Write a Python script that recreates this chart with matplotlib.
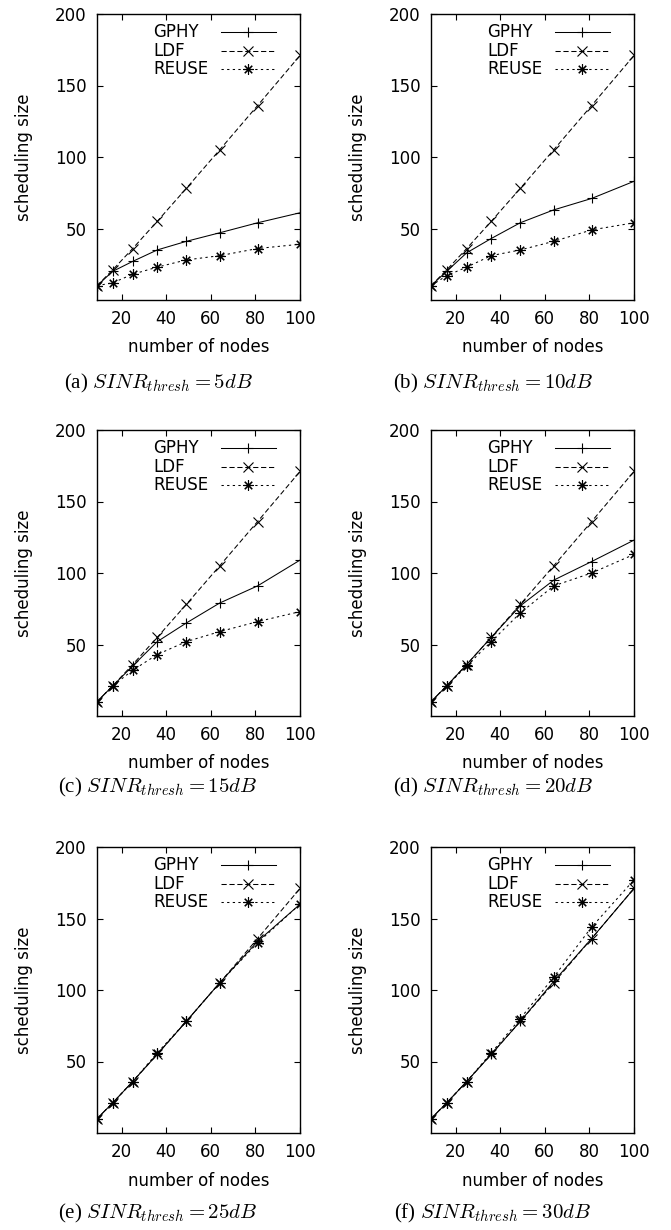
"""
Tamaño de la planificación frente al número de nodos para seis umbrales de SINR.
"""

import matplotlib
matplotlib.use("Agg")
import matplotlib.pyplot as plt
from matplotlib.lines import Line2D

# Datos
nodes = [9, 16, 25, 36, 49, 64, 81, 100]
ldf = [10, 21, 36, 55, 78, 105, 136, 171]

gphy_5 = [10, 20, 27, 35, 41, 47, 54, 61]
reuse_5 = [10, 12, 18, 23, 28, 31, 36, 39]
gphy_10 = [10, 20, 33, 43, 54, 63, 71, 83]
reuse_10 = [10, 17, 23, 31, 35, 41, 49, 54]
gphy_15 = [10, 21, 35, 52, 65, 79, 91, 109]
reuse_15 = [10, 21, 32, 43, 52, 59, 66, 73]
gphy_20 = [10, 21, 36, 55, 77, 95, 108, 123]
reuse_20 = [10, 21, 35, 52, 72, 91, 100, 113]
gphy_25 = [10, 21, 36, 55, 78, 105, 134, 160]
reuse_25 = [10, 21, 36, 56, 78, 105, 133, 160]
gphy_30 = [10, 21, 36, 55, 78, 106, 136, 171]
reuse_30 = [10, 21, 36, 56, 80, 109, 144, 177]

tags = ["(a)", "(b)", "(c)", "(d)", "(e)", "(f)"]
thresholds = ["5", "10", "15", "20", "25", "30"]
gphy_all = [gphy_5, gphy_10, gphy_15, gphy_20, gphy_25, gphy_30]
reuse_all = [reuse_5, reuse_10, reuse_15, reuse_20, reuse_25, reuse_30]
series_names = ["GPHY", "LDF", "REUSE"]

W, H = 671, 1230
AX_W, AX_H = 203, 286
FS = 12
plt.rcParams["font.family"] = ["DejaVu Sans"]
plt.rcParams["mathtext.fontset"] = "cm"

# estilos estilo gnuplot: continua, rayada y punteada
STYLES = [
    dict(color="black", lw=0.75, marker="+", ms=7.5, mew=0.8, linestyle="-"),
    dict(color="black", lw=0.75, marker="x", ms=7, mew=0.8, dashes=(5, 2.6)),
    dict(color="black", lw=0.75, marker=(8, 2, 0), ms=7.5, mew=0.8,
         dashes=(2.2, 3.2)),
]


def draw_key(ax):
    """Leyenda con el texto alineado a la izquierda y la muestra a la derecha."""
    rows = [0.937, 0.872, 0.806]
    for name, style, y in zip(series_names, STYLES, rows):
        ax.text(0.276, y, name, transform=ax.transAxes, ha="left",
                va="center", fontsize=FS)
        line_style = {k: v for k, v in style.items() if k not in ("marker", "ms", "mew")}
        ax.add_line(Line2D([0.612, 0.882], [y, y], transform=ax.transAxes,
                           **line_style))
        ax.add_line(Line2D([0.745], [y], transform=ax.transAxes,
                           color="black", linestyle="none", marker=style["marker"],
                           ms=style["ms"], mew=style["mew"]))


def add_panel(fig, left, top, idx, cap_x, cap_y):
    ax = fig.add_axes([left / W, 1 - (top + AX_H) / H, AX_W / W, AX_H / H])

    ax.plot(nodes, gphy_all[idx], label="GPHY", **STYLES[0])
    ax.plot(nodes, ldf, label="LDF", **STYLES[1])
    ax.plot(nodes, reuse_all[idx], label="REUSE", **STYLES[2])

    ax.set_xlim(9, 100)
    ax.set_ylim(0, 200)
    ax.set_xticks([20, 40, 60, 80, 100])
    ax.set_yticks([50, 100, 150, 200])
    ax.tick_params(direction="in", length=4, width=0.8, top=True,
                   right=True, labelsize=FS)
    ax.tick_params(axis="y", pad=7.5)
    ax.tick_params(axis="x", pad=7)
    for s in ax.spines.values():
        s.set_linewidth(1.0)

    ax.set_xlabel("number of nodes", fontsize=FS)
    ax.xaxis.set_label_coords(0.5, -47.5 / AX_H)
    ax.xaxis.label.set_verticalalignment("center")
    ax.set_ylabel("scheduling size", fontsize=FS)
    ax.yaxis.set_label_coords(-73 / AX_W, 0.5)
    ax.yaxis.label.set_verticalalignment("center")

    draw_key(ax)

    fig.text(cap_x / W, 1 - cap_y / H,
             tags[idx] + r" $SINR_{thresh} = " + thresholds[idx] + r"dB$",
             ha="center", va="center", fontsize=15,
             family=["Liberation Serif", "DejaVu Serif"])


fig = plt.figure(figsize=(W / 100, H / 100), dpi=100)

tops = [14, 430, 847]
caps = [383, 787, 1213]
for i in range(6):
    row, col = divmod(i, 2)
    left = 97 if col == 0 else 431
    cap_x = 158 if col == 0 else 493
    add_panel(fig, left, tops[row], i, cap_x, caps[row])

fig.savefig("out.png", dpi=100)
